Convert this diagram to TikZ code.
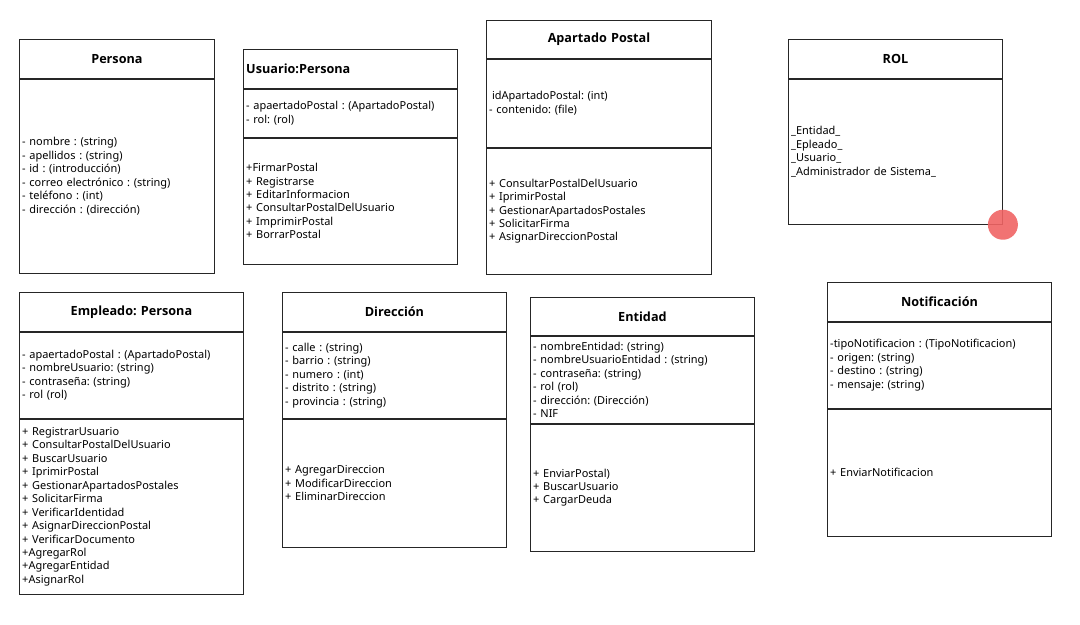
\documentclass[tikz,border=0pt]{standalone}
\usepackage{fontspec}
\setmainfont{Noto Sans}
\newfontfamily\headfont{Open Sans}
\usetikzlibrary{positioning}
\definecolor{touchred}{RGB}{240,100,100}
\frenchspacing
\begin{document}
\begin{tikzpicture}[x=0.025cm,y=-0.025cm,
  every node/.style={line width=0.6pt,draw=black!85},
  head/.style={draw,anchor=north west,inner sep=0pt,align=center,
    font=\headfont\bfseries\fontsize{9}{11}\selectfont},
  sect/.style={draw,anchor=north west,inner xsep=2pt,inner ysep=0pt,align=left,
    font=\fontsize{7.8}{9.57}\selectfont}]
\useasboundingbox (0,0) rectangle (1080,625);
\fill[white] (0,0) rectangle (1080,625);

% Persona
\node[head,minimum width=4.875cm,minimum height=0.975cm,text width=4.875cm] (persona) at (19,39) {Persona};
\node[sect,minimum width=4.875cm,minimum height=4.85cm,text width=4.875cm-4pt,below=0pt of persona.south west,anchor=north west] (persona-attr)
  {- nombre : (string)\\- apellidos : (string)\\- id : (introducción)\\- correo electrónico : (string)\\- teléfono : (int)\\- dirección : (dirección)};

% Usuario:Persona
\node[head,minimum width=5.35cm,minimum height=0.975cm,text width=5.35cm-4pt,inner xsep=2pt,align=left] (usuario) at (243,49) {Usuario:Persona};
\node[sect,minimum width=5.35cm,minimum height=1.2cm,text width=5.35cm-4pt,below=0pt of usuario.south west,anchor=north west] (usuario-attr)
  {- apaertadoPostal : (ApartadoPostal)\\- rol: (rol)};
\node[sect,minimum width=5.35cm,minimum height=3.15cm,text width=5.35cm-4pt,below=0pt of usuario-attr.south west,anchor=north west] (usuario-meth)
  {+FirmarPostal\\+ Registrarse\\+ EditarInformacion\\+ ConsultarPostalDelUsuario\\+ ImprimirPostal\\+ BorrarPostal};

% Apartado Postal
\node[head,minimum width=5.625cm,minimum height=0.95cm,text width=5.625cm] (apartado) at (486,20) {Apartado Postal};
\node[sect,minimum width=5.625cm,minimum height=2.2cm,text width=5.625cm-4pt,below=0pt of apartado.south west,anchor=north west] (apartado-attr)
  {\hspace*{2pt}idApartadoPostal: (int)\\- contenido: (file)};
\node[sect,minimum width=5.625cm,minimum height=3.15cm,text width=5.625cm-4pt,below=0pt of apartado-attr.south west,anchor=north west] (apartado-meth)
  {+ ConsultarPostalDelUsuario\\+ IprimirPostal\\+ GestionarApartadosPostales\\+ SolicitarFirma\\+ AsignarDireccionPostal};

% ROL
\node[head,minimum width=5.35cm,minimum height=0.975cm,text width=5.35cm] (rol) at (788,39) {ROL};
\node[sect,minimum width=5.35cm,minimum height=3.625cm,text width=5.35cm-4pt,below=0pt of rol.south west,anchor=north west] (rol-attr)
  {\_Entidad\_\\\_Epleado\_\\\_Usuario\_\\\_Administrador de Sistema\_};
\fill[touchred,opacity=0.9] (rol-attr.south east) circle (15);

% Empleado: Persona
\node[head,minimum width=5.6cm,minimum height=0.975cm,text width=5.6cm] (empleado) at (19,292) {Empleado: Persona};
\node[sect,minimum width=5.6cm,minimum height=2.15cm,text width=5.6cm-4pt,below=0pt of empleado.south west,anchor=north west] (empleado-attr)
  {- apaertadoPostal : (ApartadoPostal)\\- nombreUsuario: (string)\\- contraseña: (string)\\- rol (rol)};
\node[sect,minimum width=5.6cm,minimum height=4.375cm,text width=5.6cm-4pt,below=0pt of empleado-attr.south west,anchor=north west] (empleado-meth)
  {+ RegistrarUsuario\\+ ConsultarPostalDelUsuario\\+ BuscarUsuario\\+ IprimirPostal\\+ GestionarApartadosPostales\\+ SolicitarFirma\\+ VerificarIdentidad\\+ AsignarDireccionPostal\\+ VerificarDocumento\\+AgregarRol\\+AgregarEntidad\\+AsignarRol};

% Direccion
\node[head,minimum width=5.6cm,minimum height=0.975cm,text width=5.6cm] (direccion) at (282,292) {Dirección};
\node[sect,minimum width=5.6cm,minimum height=2.15cm,text width=5.6cm-4pt,below=0pt of direccion.south west,anchor=north west] (direccion-attr)
  {- calle : (string)\\- barrio : (string)\\- numero : (int)\\- distrito : (string)\\- provincia : (string)};
\node[sect,minimum width=5.6cm,minimum height=3.2cm,text width=5.6cm-4pt,below=0pt of direccion-attr.south west,anchor=north west] (direccion-meth)
  {+ AgregarDireccion\\+ ModificarDireccion\\+ EliminarDireccion};

% Entidad
\node[head,minimum width=5.6cm,minimum height=0.95cm,text width=5.6cm] (entidad) at (530,297) {Entidad};
\node[sect,minimum width=5.6cm,minimum height=2.175cm,text width=5.6cm-4pt,below=0pt of entidad.south west,anchor=north west] (entidad-attr)
  {- nombreEntidad: (string)\\- nombreUsuarioEntidad : (string)\\- contraseña: (string)\\- rol (rol)\\- dirección: (Dirección)\\- NIF};
\node[sect,minimum width=5.6cm,minimum height=3.175cm,text width=5.6cm-4pt,below=0pt of entidad-attr.south west,anchor=north west] (entidad-meth)
  {+ EnviarPostal)\\+ BuscarUsuario\\+ CargarDeuda};

% Notificacion
\node[head,minimum width=5.6cm,minimum height=0.975cm,text width=5.6cm] (notificacion) at (827,282) {Notificación};
\node[sect,minimum width=5.6cm,minimum height=2.15cm,text width=5.6cm-4pt,below=0pt of notificacion.south west,anchor=north west] (notificacion-attr)
  {-tipoNotificacion : (TipoNotificacion)\\- origen: (string)\\- destino : (string)\\- mensaje: (string)};
\node[sect,minimum width=5.6cm,minimum height=3.175cm,text width=5.6cm-4pt,below=0pt of notificacion-attr.south west,anchor=north west] (notificacion-meth)
  {+ EnviarNotificacion};
\end{tikzpicture}
\end{document}
